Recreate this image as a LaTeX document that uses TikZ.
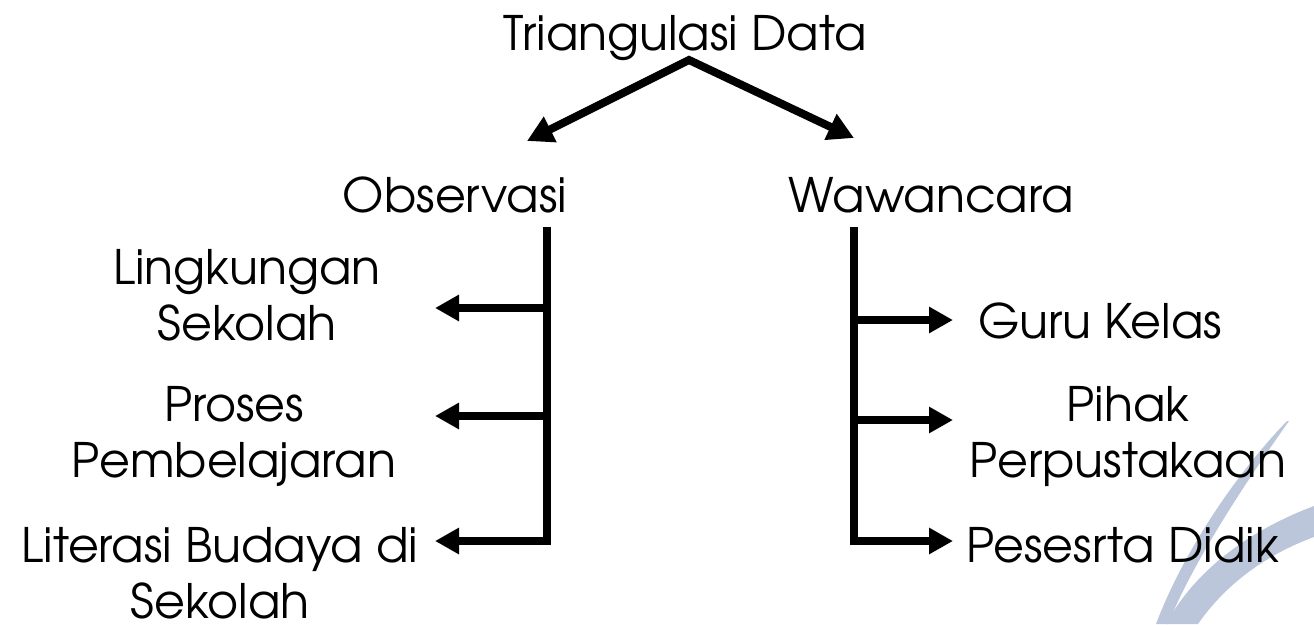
\documentclass[tikz,border=0pt]{standalone}
\usepackage{fontspec}
\setmainfont{TeX Gyre Adventor}
\usetikzlibrary{arrows.meta}
\definecolor{swoosh}{RGB}{188,198,218}
\begin{document}
\begin{tikzpicture}[x=1pt,y=-1pt,
  lbl/.style={font=\fontsize{47.5}{56}\selectfont, inner sep=0pt, align=center, anchor=base},
  conn/.style={line width=7.5pt},
  arr/.style={line width=7.5pt, -{Triangle[length=24pt,width=25pt]}}]
\useasboundingbox (0,0) rectangle (1314,624);
% background swoosh
\fill[swoosh] (1287,421) .. controls (1230,480) and (1180,560) .. (1156,624)
  -- (1168,624) .. controls (1192,565) and (1240,490) .. (1289,421) -- cycle;
\fill[swoosh] (1314,506) .. controls (1250,530) and (1195,570) .. (1166,624)
  -- (1198,624) .. controls (1225,585) and (1265,555) .. (1314,537) -- cycle;
% nodes (base anchor = baseline of the last line)
\node[lbl] (td) at (685,50) {Triangulasi Data};
\node[lbl] (obs) at (455,212) {Observasi};
\node[lbl] (waw) at (931,212) {Wawancara};
\node[lbl] (lingk) at (247,340) {Lingkungan\\Sekolah};
\node[lbl] (proses) at (234,477) {Proses\\Pembelajaran};
\node[lbl] (lit) at (220,618) {Literasi Budaya di\\Sekolah};
\node[lbl, anchor=base west] (guru) at (978,338) {Guru Kelas};
\node[lbl] (pihak) at (1128,477) {Pihak\\Perpustakaan};
\node[lbl, anchor=base west] (pes) at (966,562) {Pesesrta Didik};
% coordinates
\coordinate (apex) at (689,60);
\coordinate (ltip) at (527,141);
\coordinate (rtip) at (854,138);
\coordinate (ltop) at (547,227);
\coordinate (lbot) at (547,544.75);
\coordinate (rtop) at (854,227);
\coordinate (rbot) at (854,544.75);
\coordinate (l1) at (547,308); \coordinate (l1t) at (435,308);
\coordinate (l2) at (547,416); \coordinate (l2t) at (435,416);
\coordinate (l3) at (547,541); \coordinate (l3t) at (435,541);
\coordinate (r1) at (854,320); \coordinate (r1t) at (953,320);
\coordinate (r2) at (854,420); \coordinate (r2t) at (953,420);
\coordinate (r3) at (854,541); \coordinate (r3t) at (953,541);
% connectors
\draw[line width=8pt, line join=miter, {Triangle[length=26pt,width=27pt]}-{Triangle[length=26pt,width=27pt]}] (ltip) -- (apex) -- (rtip);
\draw[conn] (ltop) -- (lbot);
\draw[conn] (rtop) -- (rbot);
\draw[arr] (l1) -- (l1t);
\draw[arr] (l2) -- (l2t);
\draw[arr] (l3) -- (l3t);
\draw[arr] (r1) -- (r1t);
\draw[arr] (r2) -- (r2t);
\draw[arr] (r3) -- (r3t);
\end{tikzpicture}
\end{document}
